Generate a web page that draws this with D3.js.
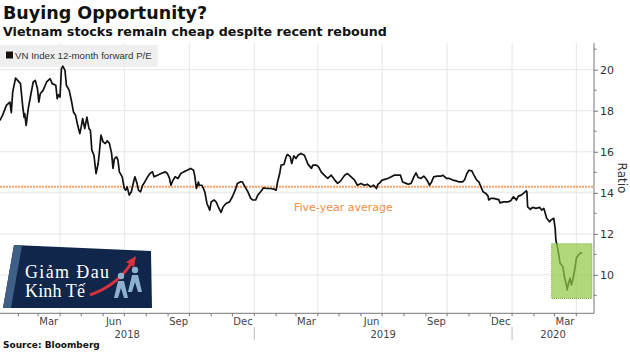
<!DOCTYPE html>
<html>
<head>
<meta charset="utf-8">
<script src="https://cdn.jsdelivr.net/npm/d3@7/dist/d3.min.js"></script>
<style>
  html, body { margin: 0; padding: 0; background: #fff; }
  svg { display: block; }
</style>
</head>
<body>
<svg id="chart" width="630" height="353"></svg>
<script>
// ---------------- DATA ----------------
const dates = [
"2018-01-06","2018-01-10","2018-01-15","2018-01-20","2018-01-22","2018-01-24","2018-01-28","2018-01-31",
"2018-02-04","2018-02-07","2018-02-09","2018-02-10","2018-02-12","2018-02-15","2018-02-18","2018-02-22",
"2018-02-25","2018-02-28","2018-03-02","2018-03-04","2018-03-08","2018-03-13","2018-03-18","2018-03-21",
"2018-03-26","2018-03-28","2018-03-30","2018-04-01","2018-04-03","2018-04-05","2018-04-08","2018-04-10",
"2018-04-14","2018-04-17","2018-04-20","2018-04-23","2018-04-26","2018-04-29","2018-05-01","2018-05-03",
"2018-05-06","2018-05-09","2018-05-12","2018-05-14","2018-05-16","2018-05-19","2018-05-22","2018-05-25",
"2018-05-27","2018-05-29","2018-06-01","2018-06-04","2018-06-07","2018-06-10","2018-06-13","2018-06-15",
"2018-06-17","2018-06-20","2018-06-22","2018-06-24","2018-06-28","2018-07-01","2018-07-03","2018-07-05",
"2018-07-08","2018-07-11","2018-07-13","2018-07-16","2018-07-19","2018-07-21","2018-07-24","2018-07-27",
"2018-07-30","2018-08-03","2018-08-07","2018-08-10","2018-08-12","2018-08-17","2018-08-22","2018-08-28",
"2018-08-31","2018-09-03","2018-09-05","2018-09-08","2018-09-11","2018-09-15","2018-09-19","2018-09-23",
"2018-09-28","2018-10-03","2018-10-07","2018-10-09","2018-10-11","2018-10-14","2018-10-15","2018-10-19",
"2018-10-23","2018-10-26","2018-10-30","2018-11-01","2018-11-05","2018-11-08","2018-11-11","2018-11-15",
"2018-11-18","2018-11-22","2018-11-27","2018-12-01","2018-12-05","2018-12-08","2018-12-12","2018-12-15",
"2018-12-19","2018-12-23","2018-12-27","2018-12-30","2019-01-03","2019-01-06","2019-01-10","2019-01-14",
"2019-01-19","2019-01-24","2019-01-29","2019-02-01","2019-02-03","2019-02-06","2019-02-08","2019-02-12",
"2019-02-15","2019-02-17","2019-02-21","2019-02-23","2019-02-26","2019-03-01","2019-03-04","2019-03-08",
"2019-03-13","2019-03-18","2019-03-23","2019-03-25","2019-03-30","2019-04-02","2019-04-06","2019-04-10",
"2019-04-15","2019-04-20","2019-04-25","2019-04-29","2019-05-03","2019-05-09","2019-05-13","2019-05-17",
"2019-05-23","2019-05-27","2019-06-01","2019-06-06","2019-06-10","2019-06-15","2019-06-19","2019-06-23",
"2019-06-25","2019-06-27","2019-07-01","2019-07-06","2019-07-09","2019-07-14","2019-07-18","2019-07-23",
"2019-07-27","2019-07-30","2019-08-04","2019-08-07","2019-08-11","2019-08-15","2019-08-18","2019-08-21",
"2019-08-25","2019-08-29","2019-09-01","2019-09-04","2019-09-06","2019-09-09","2019-09-12","2019-09-17",
"2019-09-22","2019-09-25","2019-09-30","2019-10-04","2019-10-09","2019-10-14","2019-10-18","2019-10-23",
"2019-10-26","2019-10-29","2019-11-01","2019-11-05","2019-11-08","2019-11-12","2019-11-15","2019-11-18",
"2019-11-21","2019-11-25","2019-11-28","2019-11-29","2019-12-02","2019-12-06","2019-12-11","2019-12-13",
"2019-12-15","2019-12-20","2019-12-26","2019-12-30","2020-01-03","2020-01-07","2020-01-10","2020-01-14",
"2020-01-17","2020-01-21","2020-01-22","2020-01-23","2020-01-27","2020-01-30","2020-02-04","2020-02-09",
"2020-02-12","2020-02-15","2020-02-17","2020-02-19","2020-02-23","2020-02-25","2020-02-29","2020-03-02",
"2020-03-03","2020-03-06","2020-03-09","2020-03-13","2020-03-15","2020-03-18","2020-03-19","2020-03-21",
"2020-03-23","2020-03-25","2020-03-27","2020-03-30","2020-04-01","2020-04-04","2020-04-07","2020-04-09"
];
const values = [
17.53,17.81,18.26,18.42,17.91,18.91,19.59,19.48,
19.32,18.26,17.69,17.86,17.29,18.10,18.67,19.40,
19.48,19.08,18.42,18.83,18.99,19.40,19.56,19.32,
19.24,18.59,18.78,18.67,20.05,20.17,19.97,19.24,
18.99,18.51,17.94,17.78,17.29,16.89,17.21,17.62,
17.13,17.69,17.13,17.05,16.08,15.83,14.94,15.43,
16.08,16.81,16.48,16.40,16.53,16.40,15.92,15.19,
15.67,15.75,15.59,15.02,14.78,14.21,14.13,14.29,
13.89,14.05,14.37,14.78,14.46,14.13,14.05,14.37,
14.53,14.78,14.97,15.02,14.78,14.86,14.94,15.02,
14.94,14.70,14.37,14.62,14.78,14.70,14.94,15.02,
15.10,15.19,15.10,14.78,14.21,14.53,14.37,14.37,
14.05,13.48,13.16,13.56,13.65,13.56,13.32,13.05,
13.32,13.48,13.56,13.81,14.13,14.46,14.53,14.53,
14.29,14.05,13.73,13.65,13.65,13.89,14.05,14.24,
14.21,14.21,14.18,14.13,14.53,14.94,15.35,15.38,
15.75,15.87,15.75,15.43,15.80,15.67,15.83,15.92,
15.83,15.40,15.19,15.35,15.35,15.26,15.01,14.86,
14.70,14.86,14.62,14.46,14.57,14.86,14.94,14.81,
14.62,14.37,14.46,14.37,14.42,14.29,14.37,14.21,
14.42,14.46,14.62,14.67,14.70,14.78,14.86,14.86,
14.86,14.53,14.46,14.42,14.46,14.78,14.97,14.75,
14.70,14.81,14.70,14.53,14.37,14.53,14.78,14.81,
14.81,14.86,14.70,14.70,14.62,14.58,14.53,14.53,
14.65,14.94,15.10,15.07,14.86,14.62,14.53,14.29,
14.05,13.97,13.84,13.65,13.73,13.73,13.68,13.68,
13.51,13.56,13.56,13.61,13.81,13.65,13.84,13.89,
13.97,14.10,14.05,13.32,13.19,13.29,13.24,13.29,
13.16,13.24,13.00,12.76,12.59,12.67,12.76,12.27,
11.70,11.21,10.57,10.40,9.92,9.51,9.27,9.60,
9.84,9.51,9.76,10.32,10.81,10.97,11.08,11.05
];
const seriesName = "VN Index 12-month forward P/E";
const fiveYearAverage = 14.29;
const averageLabel = "Five-year average";
const yTicks = [10, 12, 14, 16, 18, 20];
const yDomain = [8.13, 21.3];
const xDomain = ["2018-01-06", "2020-04-26"];
const monthLabels = [
  {date: "2018-03-16", label: "Mar"}, {date: "2018-06-16", label: "Jun"},
  {date: "2018-09-16", label: "Sep"}, {date: "2018-12-16", label: "Dec"},
  {date: "2019-03-16", label: "Mar"}, {date: "2019-06-16", label: "Jun"},
  {date: "2019-09-16", label: "Sep"}, {date: "2019-12-16", label: "Dec"},
  {date: "2020-03-16", label: "Mar"}
];
const yearLabels = ["2018", "2019", "2020"];
const highlightDates = ["2020-02-26", "2020-04-23"];
const highlightValues = [8.85, 11.52];
const title = "Buying Opportunity?";
const subtitle = "Vietnam stocks remain cheap despite recent rebound";
const source = "Source: Bloomberg";

// ---------------- CHART ----------------
const parse = d3.timeParse("%Y-%m-%d");
const data = dates.map((d, i) => ({date: parse(d), value: values[i]}));

const svg = d3.select("#chart");
const plot = {left: 0, right: 594, top: 43, bottom: 313.3};

const x = d3.scaleTime().domain(xDomain.map(parse)).range([plot.left, plot.right]);
const y = d3.scaleLinear().domain(yDomain).range([plot.bottom, plot.top]);

// Titles
svg.append("text").attr("x", 3).attr("y", 18.5)
  .attr("font-family", "DejaVu Sans").attr("font-weight", "bold").attr("font-size", 17.5)
  .attr("fill", "#111").text(title);
svg.append("text").attr("x", 3).attr("y", 36)
  .attr("font-family", "DejaVu Sans").attr("font-weight", "bold").attr("font-size", 12.7)
  .attr("fill", "#111").text(subtitle);

// Gridlines
const g = svg.append("g");
g.selectAll("line.hgrid").data(yTicks).join("line")
  .attr("x1", plot.left).attr("x2", plot.right)
  .attr("y1", d => y(d)).attr("y2", d => y(d))
  .attr("stroke", "#e6e6e6").attr("stroke-width", 1);

const quarterStarts = d3.timeMonth.every(3).range(x.domain()[0], x.domain()[1])
  .filter(d => d.getMonth() % 3 === 0);
g.selectAll("line.vgrid").data(quarterStarts).join("line")
  .attr("x1", d => x(d)).attr("x2", d => x(d))
  .attr("y1", plot.top).attr("y2", plot.bottom)
  .attr("stroke", "#e6e6e6").attr("stroke-width", 1);

// Legend box
svg.append("rect").attr("x", 0).attr("y", 45).attr("width", 158).attr("height", 22)
  .attr("fill", "#efefef");
svg.append("rect").attr("x", 6).attr("y", 51.5).attr("width", 7).attr("height", 7).attr("fill", "#111");
svg.append("text").attr("x", 15).attr("y", 59)
  .attr("font-family", "Liberation Sans, Arial, sans-serif").attr("font-size", 9.7)
  .attr("fill", "#333").text(seriesName);

// Five-year average line
svg.append("line")
  .attr("x1", plot.left).attr("x2", plot.right)
  .attr("y1", y(fiveYearAverage)).attr("y2", y(fiveYearAverage))
  .attr("stroke", "#f3a06a").attr("stroke-width", 2).attr("stroke-dasharray", "2,1");
svg.append("text").attr("x", 294).attr("y", 211)
  .attr("font-family", "DejaVu Sans").attr("font-size", 11)
  .attr("fill", "#f08c45").text(averageLabel);

// Logo watermark (Giảm Đau Kinh Tế)
const logo = svg.append("g");
logo.append("polygon").attr("points", "14,245 151,251 152,308 3,308").attr("fill", "#10264a");
logo.append("polygon").attr("points", "14,245 22,245.5 11,308 3,308").attr("fill", "#3f5f86");
logo.append("text").attr("x", 25).attr("y", 278)
  .attr("font-family", "Liberation Serif, serif").attr("font-size", 18)
  .attr("fill", "#fff").attr("textLength", 84).text("Giảm Đau");
logo.append("text").attr("x", 25).attr("y", 297)
  .attr("font-family", "Liberation Serif, serif").attr("font-size", 18)
  .attr("fill", "#fff").attr("textLength", 60).text("Kinh Tế");
logo.append("path").attr("d", "M90,295 Q118,285 132,262").attr("fill", "none")
  .attr("stroke", "#d8323c").attr("stroke-width", 3);
logo.append("path").attr("d", "M136,256 L126,262 L134,267 Z").attr("fill", "#d8323c");
[[121,276],[135,270]].forEach(([cx, cy]) => {
  logo.append("circle").attr("cx", cx).attr("cy", cy).attr("r", 3.2).attr("fill", "#8fb1d0");
  logo.append("path").attr("d", `M${cx-7},${cy+22} L${cx-3},${cy+5} L${cx+3},${cy+5} L${cx+7},${cy+22} L${cx+3},${cy+22} L${cx},${cy+12} L${cx-3},${cy+22} Z`)
    .attr("fill", "#8fb1d0");
});

// Series line
const line = d3.line().x(d => x(d.date)).y(d => y(d.value));
svg.append("path").datum(data).attr("d", line)
  .attr("fill", "none").attr("stroke", "#111").attr("stroke-width", 1.7)
  .attr("stroke-linejoin", "round");

// Highlight box
const hx0 = x(parse(highlightDates[0])), hx1 = x(parse(highlightDates[1]));
const hy0 = y(highlightValues[1]), hy1 = y(highlightValues[0]);
svg.append("rect").attr("x", hx0).attr("y", hy0).attr("width", hx1 - hx0).attr("height", hy1 - hy0)
  .attr("fill", "#94c94a").attr("fill-opacity", 0.72)
  .attr("stroke", "#7aaa3a").attr("stroke-width", 1).attr("stroke-dasharray", "1,1");

// Axes
const axisColor = "#777";
svg.append("line").attr("x1", plot.left).attr("x2", plot.right)
  .attr("y1", plot.bottom).attr("y2", plot.bottom).attr("stroke", axisColor);
svg.append("line").attr("x1", plot.right).attr("x2", plot.right)
  .attr("y1", plot.top).attr("y2", plot.bottom).attr("stroke", axisColor);

// Y axis ticks (major at even values, minor at odd)
const yAxis = d3.axisRight(y).tickValues(yTicks).tickSize(4).tickPadding(2).tickFormat(d3.format("d"));
const ya = svg.append("g").attr("transform", `translate(${plot.right},0)`).call(yAxis);
ya.select(".domain").remove();
ya.selectAll("line").attr("stroke", axisColor);
ya.selectAll("text").attr("font-family", "DejaVu Sans").attr("font-size", 11).attr("fill", "#333");
const minorY = d3.range(9, 22, 2);
svg.append("g").selectAll("line").data(minorY).join("line")
  .attr("x1", plot.right).attr("x2", plot.right + 2.5)
  .attr("y1", d => y(d)).attr("y2", d => y(d)).attr("stroke", axisColor);

svg.append("text")
  .attr("transform", `translate(618,178) rotate(90)`)
  .attr("text-anchor", "middle")
  .attr("font-family", "DejaVu Sans").attr("font-size", 12).attr("fill", "#333")
  .text("Ratio");

// X axis monthly ticks
const monthStarts = d3.timeMonth.range(x.domain()[0], x.domain()[1]);
svg.append("g").selectAll("line").data(monthStarts).join("line")
  .attr("x1", d => x(d)).attr("x2", d => x(d))
  .attr("y1", plot.bottom).attr("y2", plot.bottom + 3).attr("stroke", axisColor);

svg.append("g").selectAll("text").data(monthLabels).join("text")
  .attr("x", d => x(parse(d.date))).attr("y", 325)
  .attr("text-anchor", "middle")
  .attr("font-family", "DejaVu Sans").attr("font-size", 10).attr("fill", "#444")
  .text(d => d.label);

// Year labels and separators
const yearStarts = yearLabels.map(yr => parse(yr + "-01-01"));
const yearSpan = yearStarts.map((d, i) => {
  const a = Math.max(x(d), plot.left);
  const b = i < yearStarts.length - 1 ? x(yearStarts[i + 1]) : plot.right;
  return (a + b) / 2;
});
svg.append("g").selectAll("text").data(yearLabels).join("text")
  .attr("x", (d, i) => yearSpan[i]).attr("y", 338)
  .attr("text-anchor", "middle")
  .attr("font-family", "DejaVu Sans").attr("font-size", 10).attr("fill", "#444")
  .text(d => d);
svg.append("g").selectAll("line").data(yearStarts.slice(1)).join("line")
  .attr("x1", d => x(d)).attr("x2", d => x(d))
  .attr("y1", 327).attr("y2", 340).attr("stroke", "#bbb");

// Source
svg.append("text").attr("x", 3).attr("y", 348)
  .attr("font-family", "DejaVu Sans").attr("font-weight", "bold").attr("font-size", 9)
  .attr("fill", "#111").text(source);
</script>
</body>
</html>
